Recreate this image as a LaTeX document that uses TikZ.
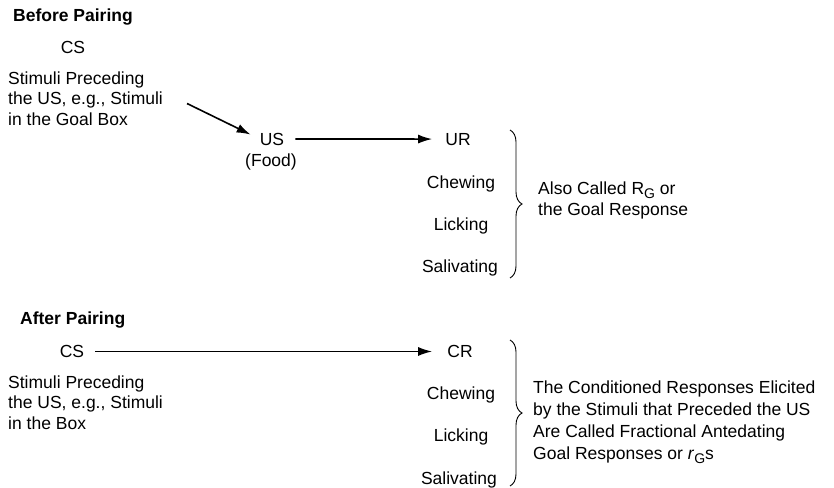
\documentclass[tikz,border=0pt]{standalone}
\usepackage{fontspec}
\setmainfont{Liberation Sans}
\usetikzlibrary{arrows.meta,decorations.pathreplacing}
\newcommand{\subG}{\raisebox{-4pt}{\fontsize{14}{14}\selectfont G}}
\begin{document}
\begin{tikzpicture}[x=1pt,y=-1pt,
  txt/.style={inner sep=0pt, font=\fontsize{17.5}{20.5}\selectfont},
  hd/.style={inner sep=0pt, anchor=base west, font=\fontsize{17.5}{20.5}\selectfont\bfseries},
  lbl/.style={txt, anchor=base},
  para/.style={txt, anchor=north west, align=left},
  arr/.style={line width=1.6pt, -{Latex[length=14pt,width=9pt]}, shorten <=11pt, shorten >=13pt},
  brc/.style={line width=0.9pt, decorate, decoration={brace, amplitude=12pt}}
]
\useasboundingbox (0,0) rectangle (834,487);

% ---------- Before Pairing ----------
\node[hd] (bp) at (13,22) {Before Pairing};
\node[lbl] (cs1) at (73,53) {CS};
\node[para] (stim1) at (8,71.5) {Stimuli Preceding\\the US, e.g., Stimuli\\in the Goal Box};
\coordinate (a1) at (187,103.5);
\node[lbl] (us) at (272,145) {US};
\node[lbl] (food) at (271,166.5) {(Food)};
\node[lbl] (ur) at (458,145) {UR};
\node[lbl] (ch1) at (461,188) {Chewing};
\node[lbl] (li1) at (461,230.5) {Licking};
\node[lbl] (sa1) at (460,272.5) {Salivating};
\draw[arr, shorten <=0pt, shorten >=10pt] (a1) -- (us.west);
\draw[arr] (us.east) -- (ur.west);
\coordinate (b1t) at (510,130);
\coordinate (b1b) at (510,278);
\draw[brc] (b1t) -- (b1b);
\node[para, font=\fontsize{17.5}{21}\selectfont] (rg) at (538,181.5) {Also Called R\subG{} or\\the Goal Response};

% ---------- After Pairing ----------
\node[hd] (ap) at (20,324) {After Pairing};
\node[lbl] (cs2) at (72,357.5) {CS};
\node[lbl] (cr) at (460,357.5) {CR};
\node[para] (stim2) at (8,375.5) {Stimuli Preceding\\the US, e.g., Stimuli\\in the Box};
\node[lbl] (ch2) at (461,399.5) {Chewing};
\node[lbl] (li2) at (461,441.5) {Licking};
\node[lbl] (sa2) at (459,484) {Salivating};
\draw[arr, shorten >=15pt] (cs2.east) -- (cr.west);
\coordinate (b2t) at (510,340);
\coordinate (b2b) at (510,486);
\draw[brc] (b2t) -- (b2b);
\node[para, font=\fontsize{17.5}{22}\selectfont] (frg) at (533,380.5) {The Conditioned Responses Elicited\\by the Stimuli that Preceded the US\\Are Called Fractional Antedating\\Goal Responses or \textit{r}\subG s};
\end{tikzpicture}
\end{document}
